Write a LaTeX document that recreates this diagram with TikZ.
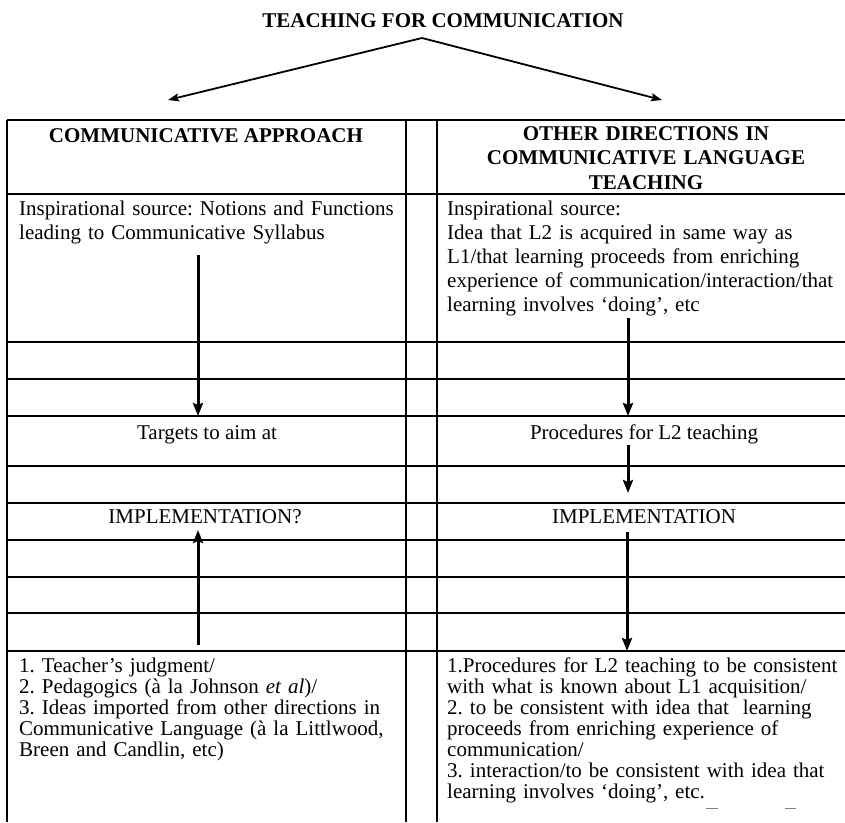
\documentclass[tikz,border=0pt]{standalone}
\usepackage{fontspec}
\setmainfont{Liberation Serif}
\usetikzlibrary{arrows.meta}
\frenchspacing
\tikzset{
 body/.style={font=\fontsize{21}{24}\selectfont, inner sep=0, anchor=base west, align=left},
 tight/.style={font=\fontsize{21}{21}\selectfont, inner sep=0, anchor=base west, align=left},
 head/.style={font=\fontsize{21}{24.5}\selectfont\bfseries, inner sep=0, anchor=base, align=center},
 mid/.style={font=\fontsize{21}{24}\selectfont, inner sep=0, anchor=base},
 rule/.style={black, line width=1.2pt},
 branch/.style={black, line width=1.8pt, -{Stealth[length=11pt, width=8pt, inset=2pt]}},
 flow/.style={black, line width=3pt, -{Stealth[length=13pt, width=10pt, inset=2pt]}},
}
\begin{document}
\begin{tikzpicture}[x=1pt,y=-1pt]
\useasboundingbox (0,0) rectangle (845,822);
\node[head] (title) at (443,27) {TEACHING FOR COMMUNICATION};
\coordinate (apex) at (422,38);
\coordinate (tipL) at (168,100);
\coordinate (tipR) at (662,100);
\draw[branch] (apex)--(tipL);
\draw[branch] (apex)--(tipR);
\foreach \y in {120,194,342,379,416,466,503,540,577,613,651} {
 \draw[rule] (7,\y)--(845,\y);
}
\foreach \x in {7,406,437} {
 \draw[rule] (\x,120)--(\x,822);
}
\node[head] (approach) at (206,142) {COMMUNICATIVE APPROACH};
\node[head, text width=400] (directions) at (646,140) {OTHER DIRECTIONS IN\\COMMUNICATIVE LANGUAGE\\TEACHING};
\node[body, text width=385] (sourceL) at (19,215) {Inspirational source: Notions and Functions\\leading to Communicative Syllabus};
\node[body, text width=395] (sourceR) at (447,215) {Inspirational source:\\Idea that L2 is acquired in same way as\\L1/that learning proceeds from enriching\\experience of communication/interaction/that\\learning involves `doing', etc};
\node[mid] (targets) at (207,439) {Targets to aim at};
\node[mid] (procedures) at (644,439) {Procedures for L2 teaching};
\node[mid] (implL) at (205,523) {IMPLEMENTATION?};
\node[mid] (implR) at (644,523) {IMPLEMENTATION};
\node[tight, text width=385] (sourcesL) at (19,672) {1. Teacher's judgment/\\2. Pedagogics (à la Johnson \emph{et al})/\\3. Ideas imported from other directions in\\Communicative Language (à la Littlwood,\\Breen and Candlin, etc)};
\node[tight, text width=400] (sourcesR) at (447,672) {1.Procedures for L2 teaching to be consistent\\with what is known about L1 acquisition/\\2. to be consistent with idea that\ \ learning\\proceeds from enriching experience of\\communication/\\3. interaction/to be consistent with idea that\\learning involves `doing', etc.};
\coordinate (a1) at (198,255);
\coordinate (a2) at (198,416);
\coordinate (b1) at (628,318);
\coordinate (b2) at (628,416);
\coordinate (b3) at (628,445);
\coordinate (b4) at (628,493);
\coordinate (c1) at (198,645);
\coordinate (c2) at (198,530);
\coordinate (b5) at (627,532);
\coordinate (b6) at (627,651);
\draw[flow] (a1)--(a2);
\draw[flow] (b1)--(b2);
\draw[flow] (b3)--(b4);
\draw[flow] (c1)--(c2);
\draw[flow] (b5)--(b6);
\draw[gray, line width=1pt] (706,808)--(718,808) (785,808)--(796,808);
\end{tikzpicture}
\end{document}
